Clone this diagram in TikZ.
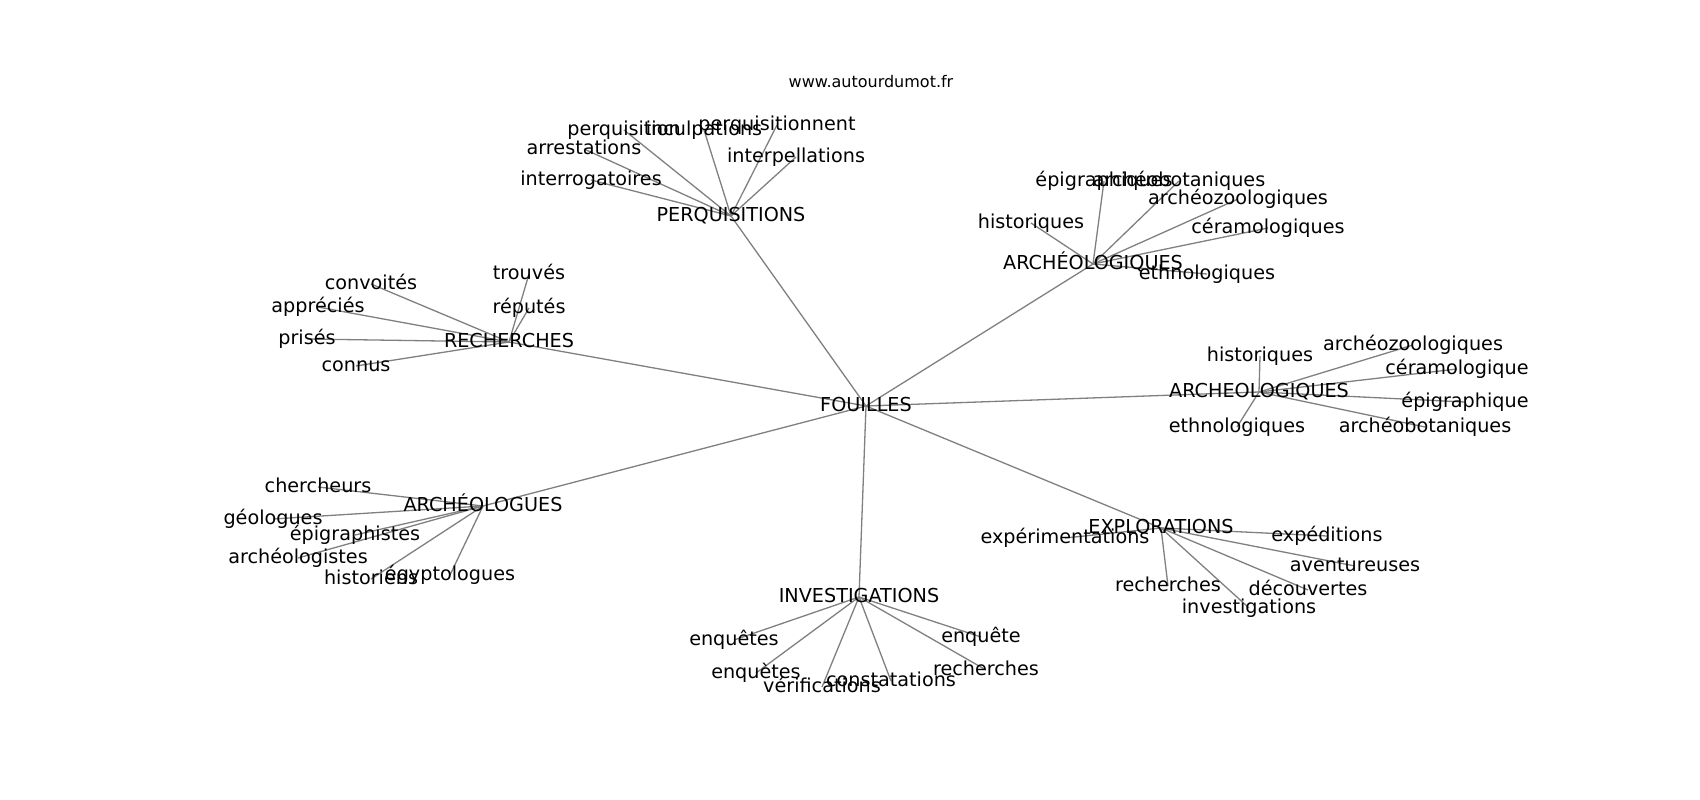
\documentclass[tikz,border=0pt]{standalone}
\usepackage{fontspec}
\setmainfont{DejaVu Sans}
\usetikzlibrary{backgrounds}
\tikzset{
  lab/.style={inner sep=0pt, text height=10.6pt, text depth=0pt, font=\fontsize{19.2}{23}\selectfont, text=black},
  ttl/.style={inner sep=0pt, anchor=base, font=\fontsize{16}{19}\selectfont, text=black},
  edge/.style={draw=gray, line width=1.3pt}
}
\begin{document}
\begin{tikzpicture}[x=1pt,y=-1pt]
\useasboundingbox (0,0) rectangle (1700,800);
\node[ttl] (title) at (871,88) {www.autourdumot.fr};
% hubs
\node[lab] (F) at (866,406) {FOUILLES};
\node[lab] (P) at (731,216) {PERQUISITIONS};
\node[lab] (A1) at (1093,264) {ARCHÉOLOGIQUES};
\node[lab] (A2) at (1259,392) {ARCHEOLOGIQUES};
\node[lab] (R) at (509,342) {RECHERCHES};
\node[lab] (AL) at (483,506) {ARCHÉOLOGUES};
\node[lab] (I) at (859,597) {INVESTIGATIONS};
\node[lab] (E) at (1161,528) {EXPLORATIONS};
% PERQUISITIONS
\node[lab] (p1) at (624,130) {perquisition};
\node[lab] (p2) at (704,130) {inculpations};
\node[lab] (p3) at (777,125) {perquisitionnent};
\node[lab] (p4) at (796,157) {interpellations};
\node[lab] (p5) at (584,149) {arrestations};
\node[lab] (p6) at (591,180) {interrogatoires};
% ARCHÉOLOGIQUES
\node[lab] (a1) at (1104,181) {épigraphiques};
\node[lab] (a2) at (1179,181) {archéobotaniques};
\node[lab] (a3) at (1238,199) {archéozoologiques};
\node[lab] (a4) at (1268,228) {céramologiques};
\node[lab] (a5) at (1031,223) {historiques};
\node[lab] (a6) at (1207,274) {ethnologiques};
% ARCHEOLOGIQUES
\node[lab] (b1) at (1260,356) {historiques};
\node[lab] (b2) at (1413,345) {archéozoologiques};
\node[lab] (b3) at (1457,369) {céramologique};
\node[lab] (b4) at (1465,402) {épigraphique};
\node[lab] (b5) at (1237,427) {ethnologiques};
\node[lab] (b6) at (1425,427) {archéobotaniques};
% RECHERCHES
\node[lab] (r1) at (529,274) {trouvés};
\node[lab] (r2) at (529,308) {réputés};
\node[lab] (r3) at (371,284) {convoités};
\node[lab] (r4) at (318,307) {appréciés};
\node[lab] (r5) at (307,339) {prisés};
\node[lab] (r6) at (356,366) {connus};
% ARCHÉOLOGUES
\node[lab] (l1) at (318,487) {chercheurs};
\node[lab] (l2) at (273,519) {géologues};
\node[lab] (l3) at (355,535) {épigraphistes};
\node[lab] (l4) at (298,558) {archéologistes};
\node[lab] (l5) at (371,579) {historiens};
\node[lab] (l6) at (450,575) {égyptologues};
% INVESTIGATIONS
\node[lab] (i1) at (734,640) {enquêtes};
\node[lab] (i2) at (756,673) {enquètes};
\node[lab] (i3) at (822,687) {vérifications};
\node[lab] (i4) at (891,681) {constatations};
\node[lab] (i5) at (981,637) {enquête};
\node[lab] (i6) at (986,670) {recherches};
% EXPLORATIONS
\node[lab] (e1) at (1065,538) {expérimentations};
\node[lab] (e2) at (1327,536) {expéditions};
\node[lab] (e3) at (1355,566) {aventureuses};
\node[lab] (e4) at (1168,586) {recherches};
\node[lab] (e5) at (1308,590) {découvertes};
\node[lab] (e6) at (1249,608) {investigations};
\begin{scope}[on background layer]
\fill[white] (0,0) rectangle (1700,800);
\foreach \h in {P,A1,A2,R,AL,I,E}{\draw[edge] (F.center) -- (\h.center);}
\foreach \c in {p1,p2,p3,p4,p5,p6}{\draw[edge] (P.center) -- (\c.center);}
\foreach \c in {a1,a2,a3,a4,a5,a6}{\draw[edge] (A1.center) -- (\c.center);}
\foreach \c in {b1,b2,b3,b4,b5,b6}{\draw[edge] (A2.center) -- (\c.center);}
\foreach \c in {r1,r2,r3,r4,r5,r6}{\draw[edge] (R.center) -- (\c.center);}
\foreach \c in {l1,l2,l3,l4,l5,l6}{\draw[edge] (AL.center) -- (\c.center);}
\foreach \c in {i1,i2,i3,i4,i5,i6}{\draw[edge] (I.center) -- (\c.center);}
\foreach \c in {e1,e2,e3,e4,e5,e6}{\draw[edge] (E.center) -- (\c.center);}
\end{scope}
\end{tikzpicture}
\end{document}
